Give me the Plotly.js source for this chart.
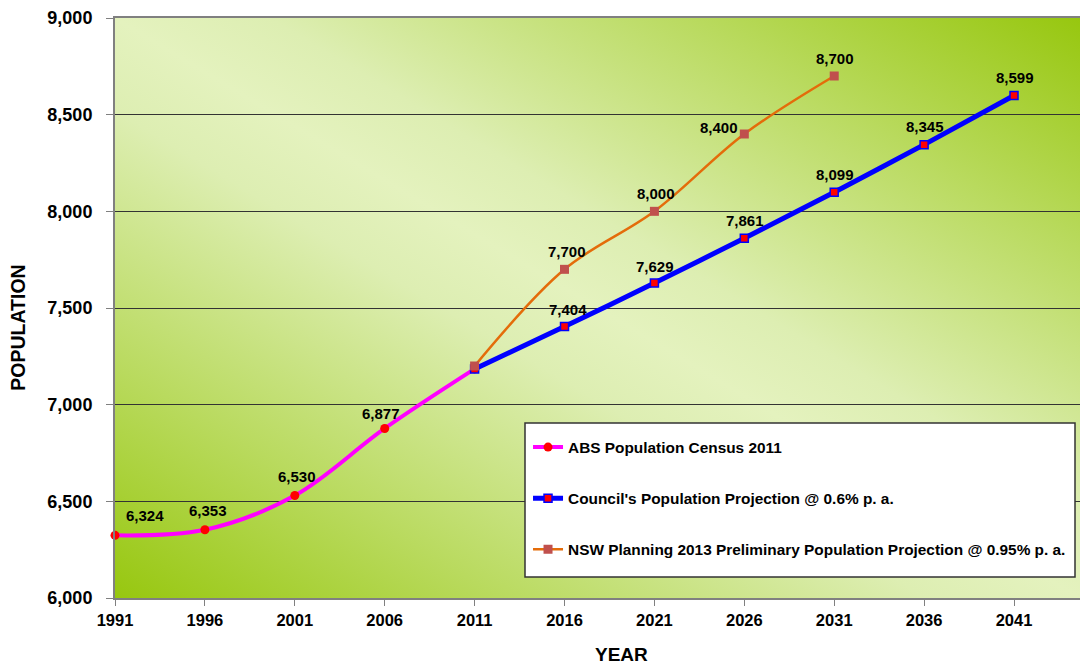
<!DOCTYPE html>
<html>
<head>
<meta charset="utf-8">
<script src="https://cdn.plot.ly/plotly-3.0.1.min.js"></script>
<style>
  html, body { margin: 0; padding: 0; background: #ffffff; }
  #chart { width: 1080px; height: 666px; }
</style>
</head>
<body>
<div id="chart"></div>
<script>
// ---- Data ----
var tickYears = [1991, 1996, 2001, 2006, 2011, 2016, 2021, 2026, 2031, 2036, 2041];

var absYears = [1991, 1996, 2001, 2006, 2011];
var absValues = [6324, 6353, 6530, 6877, 7185];

var councilYears = [2011, 2016, 2021, 2026, 2031, 2036, 2041];
var councilValues = [7185, 7404, 7629, 7861, 8099, 8345, 8599];

var nswYears = [2011, 2016, 2021, 2026, 2031];
var nswValues = [7200, 7700, 8000, 8400, 8700];

var seriesNames = [
  "ABS Population Census 2011",
  "Council's Population Projection @ 0.6% p. a.",
  "NSW Planning 2013 Preliminary Population Projection @ 0.95% p. a."
];

// ---- Styles ----
var FONT = '"Liberation Sans", Arial, sans-serif';
// label offsets (px) per point: [xshift, yshift]
var absLabelShift = [[30, 20], [3, 19], [2, 19], [-4, 15], null];
var councilLabelShift = [null, [3, 17], [1, 17], [1, 18], [1, 18], [1, 18], [1, 18]];
var nswLabelShift = [null, [2, 18], [2, 18], [-25, 7], [1, 18]];

function fmt(v) { return v.toLocaleString('en-US'); }

var traces = [
  {
    x: absYears, y: absValues, name: seriesNames[0], type: 'scatter', mode: 'lines+markers',
    line: { color: '#FF00FF', width: 4, shape: 'spline', smoothing: 1 },
    marker: { symbol: 'circle', size: 9, color: '#FF0000' },
    cliponaxis: false, legendgroup: 'a'
  },
  {
    x: councilYears, y: councilValues, name: seriesNames[1], type: 'scatter', mode: 'lines+markers',
    line: { color: '#0000FF', width: 5, shape: 'spline', smoothing: 0.6 },
    marker: { symbol: 'square', size: 8, color: '#FF0000', line: { color: '#0000FF', width: 1.5 } },
    cliponaxis: false, legendgroup: 'b'
  },
  {
    x: nswYears, y: nswValues, name: seriesNames[2], type: 'scatter', mode: 'lines+markers',
    line: { color: '#E46C0A', width: 2.5, shape: 'spline', smoothing: 1 },
    marker: { symbol: 'square', size: 9, color: '#C0504D' },
    cliponaxis: false, legendgroup: 'c'
  }
];

var annotations = [];
function addLabels(xs, ys, shifts) {
  for (var i = 0; i < xs.length; i++) {
    if (!shifts[i]) continue;
    annotations.push({
      x: xs[i], y: ys[i], xref: 'x', yref: 'y', text: fmt(ys[i]), showarrow: false,
      xshift: shifts[i][0], yshift: shifts[i][1],
      font: { family: FONT, size: 15, color: '#000000', weight: 'bold' }
    });
  }
}
addLabels(absYears, absValues, absLabelShift);
addLabels(councilYears, councilValues, councilLabelShift);
addLabels(nswYears, nswValues, nswLabelShift);

annotations.push({
  text: 'YEAR', xref: 'paper', yref: 'paper', x: 0.525, y: -0.098, showarrow: false,
  xanchor: 'center', yanchor: 'middle',
  font: { family: FONT, size: 19, color: '#000000', weight: 'bold' }
});
annotations.push({
  text: 'POPULATION', xref: 'paper', yref: 'paper', x: -0.1005, y: 0.466, showarrow: false,
  xanchor: 'center', yanchor: 'middle', textangle: -90,
  font: { family: FONT, size: 19.5, color: '#000000', weight: 'bold' }
});

var bgSvg = '<svg xmlns="http://www.w3.org/2000/svg" width="965" height="580" preserveAspectRatio="none" viewBox="0 0 965 580">' +
  '<defs><linearGradient id="g" x1="0" y1="1" x2="1" y2="0">' +
  '<stop offset="0" stop-color="#97C70F"/>' +
  '<stop offset="0.2" stop-color="#B9DA5E"/>' +
  '<stop offset="0.42" stop-color="#DDEEB2"/>' +
  '<stop offset="0.5" stop-color="#E4F2BE"/>' +
  '<stop offset="0.58" stop-color="#DDEEB2"/>' +
  '<stop offset="0.8" stop-color="#B9DA5E"/>' +
  '<stop offset="1" stop-color="#97C70F"/>' +
  '</linearGradient></defs><rect width="965" height="580" fill="url(#g)"/></svg>';
var bgUri = 'data:image/svg+xml;charset=utf-8,' + encodeURIComponent(bgSvg);

var layout = {
  width: 1080, height: 666,
  margin: { l: 115, r: 0, t: 18, b: 68, pad: 0 },
  paper_bgcolor: '#FFFFFF',
  plot_bgcolor: 'rgba(0,0,0,0)',
  font: { family: FONT, color: '#000000' },
  showlegend: true,
  legend: {
    x: 0.428, y: 0.2886, xanchor: 'left', yanchor: 'top',
    bgcolor: 'rgba(0,0,0,0)', borderwidth: 0,
    traceorder: 'grouped', tracegroupgap: 28,
    font: { family: FONT, size: 15.4, color: '#000000', weight: 'bold' }
  },
  xaxis: {
    range: [1991, 2044.67],
    tickvals: tickYears, ticktext: tickYears.map(String),
    showgrid: false, zeroline: false,
    showline: true, linecolor: '#808080', linewidth: 2, mirror: true,
    ticks: 'outside', ticklen: 6, tickcolor: '#808080', tickwidth: 1,
    tickfont: { family: FONT, size: 16.5, color: '#000000', weight: 'bold' }
  },
  yaxis: {
    range: [6000, 9000], dtick: 500, tick0: 6000, tickformat: ',d',
    showgrid: true, gridcolor: '#333333', gridwidth: 1, zeroline: false,
    showline: true, linecolor: '#808080', linewidth: 2,
    ticks: 'outside', ticklen: 7, tickcolor: '#808080', tickwidth: 1,
    ticklabelstandoff: 10,
    tickfont: { family: FONT, size: 18, color: '#000000', weight: 'bold' }
  },
  images: [{
    source: bgUri, xref: 'paper', yref: 'paper', x: 0, y: 1, sizex: 1, sizey: 1,
    xanchor: 'left', yanchor: 'top', sizing: 'stretch', layer: 'below'
  }],
  shapes: [{
    type: 'rect', xref: 'paper', yref: 'paper', layer: 'above',
    x0: (525 - 115) / 965, x1: (1075 - 115) / 965,
    y0: (598 - 577) / 580, y1: (598 - 423) / 580,
    fillcolor: '#FFFFFF', line: { color: '#333333', width: 1.5 }
  }],
  annotations: annotations
};

Plotly.newPlot('chart', traces, layout, { displayModeBar: false, staticPlot: true });
</script>
</body>
</html>
